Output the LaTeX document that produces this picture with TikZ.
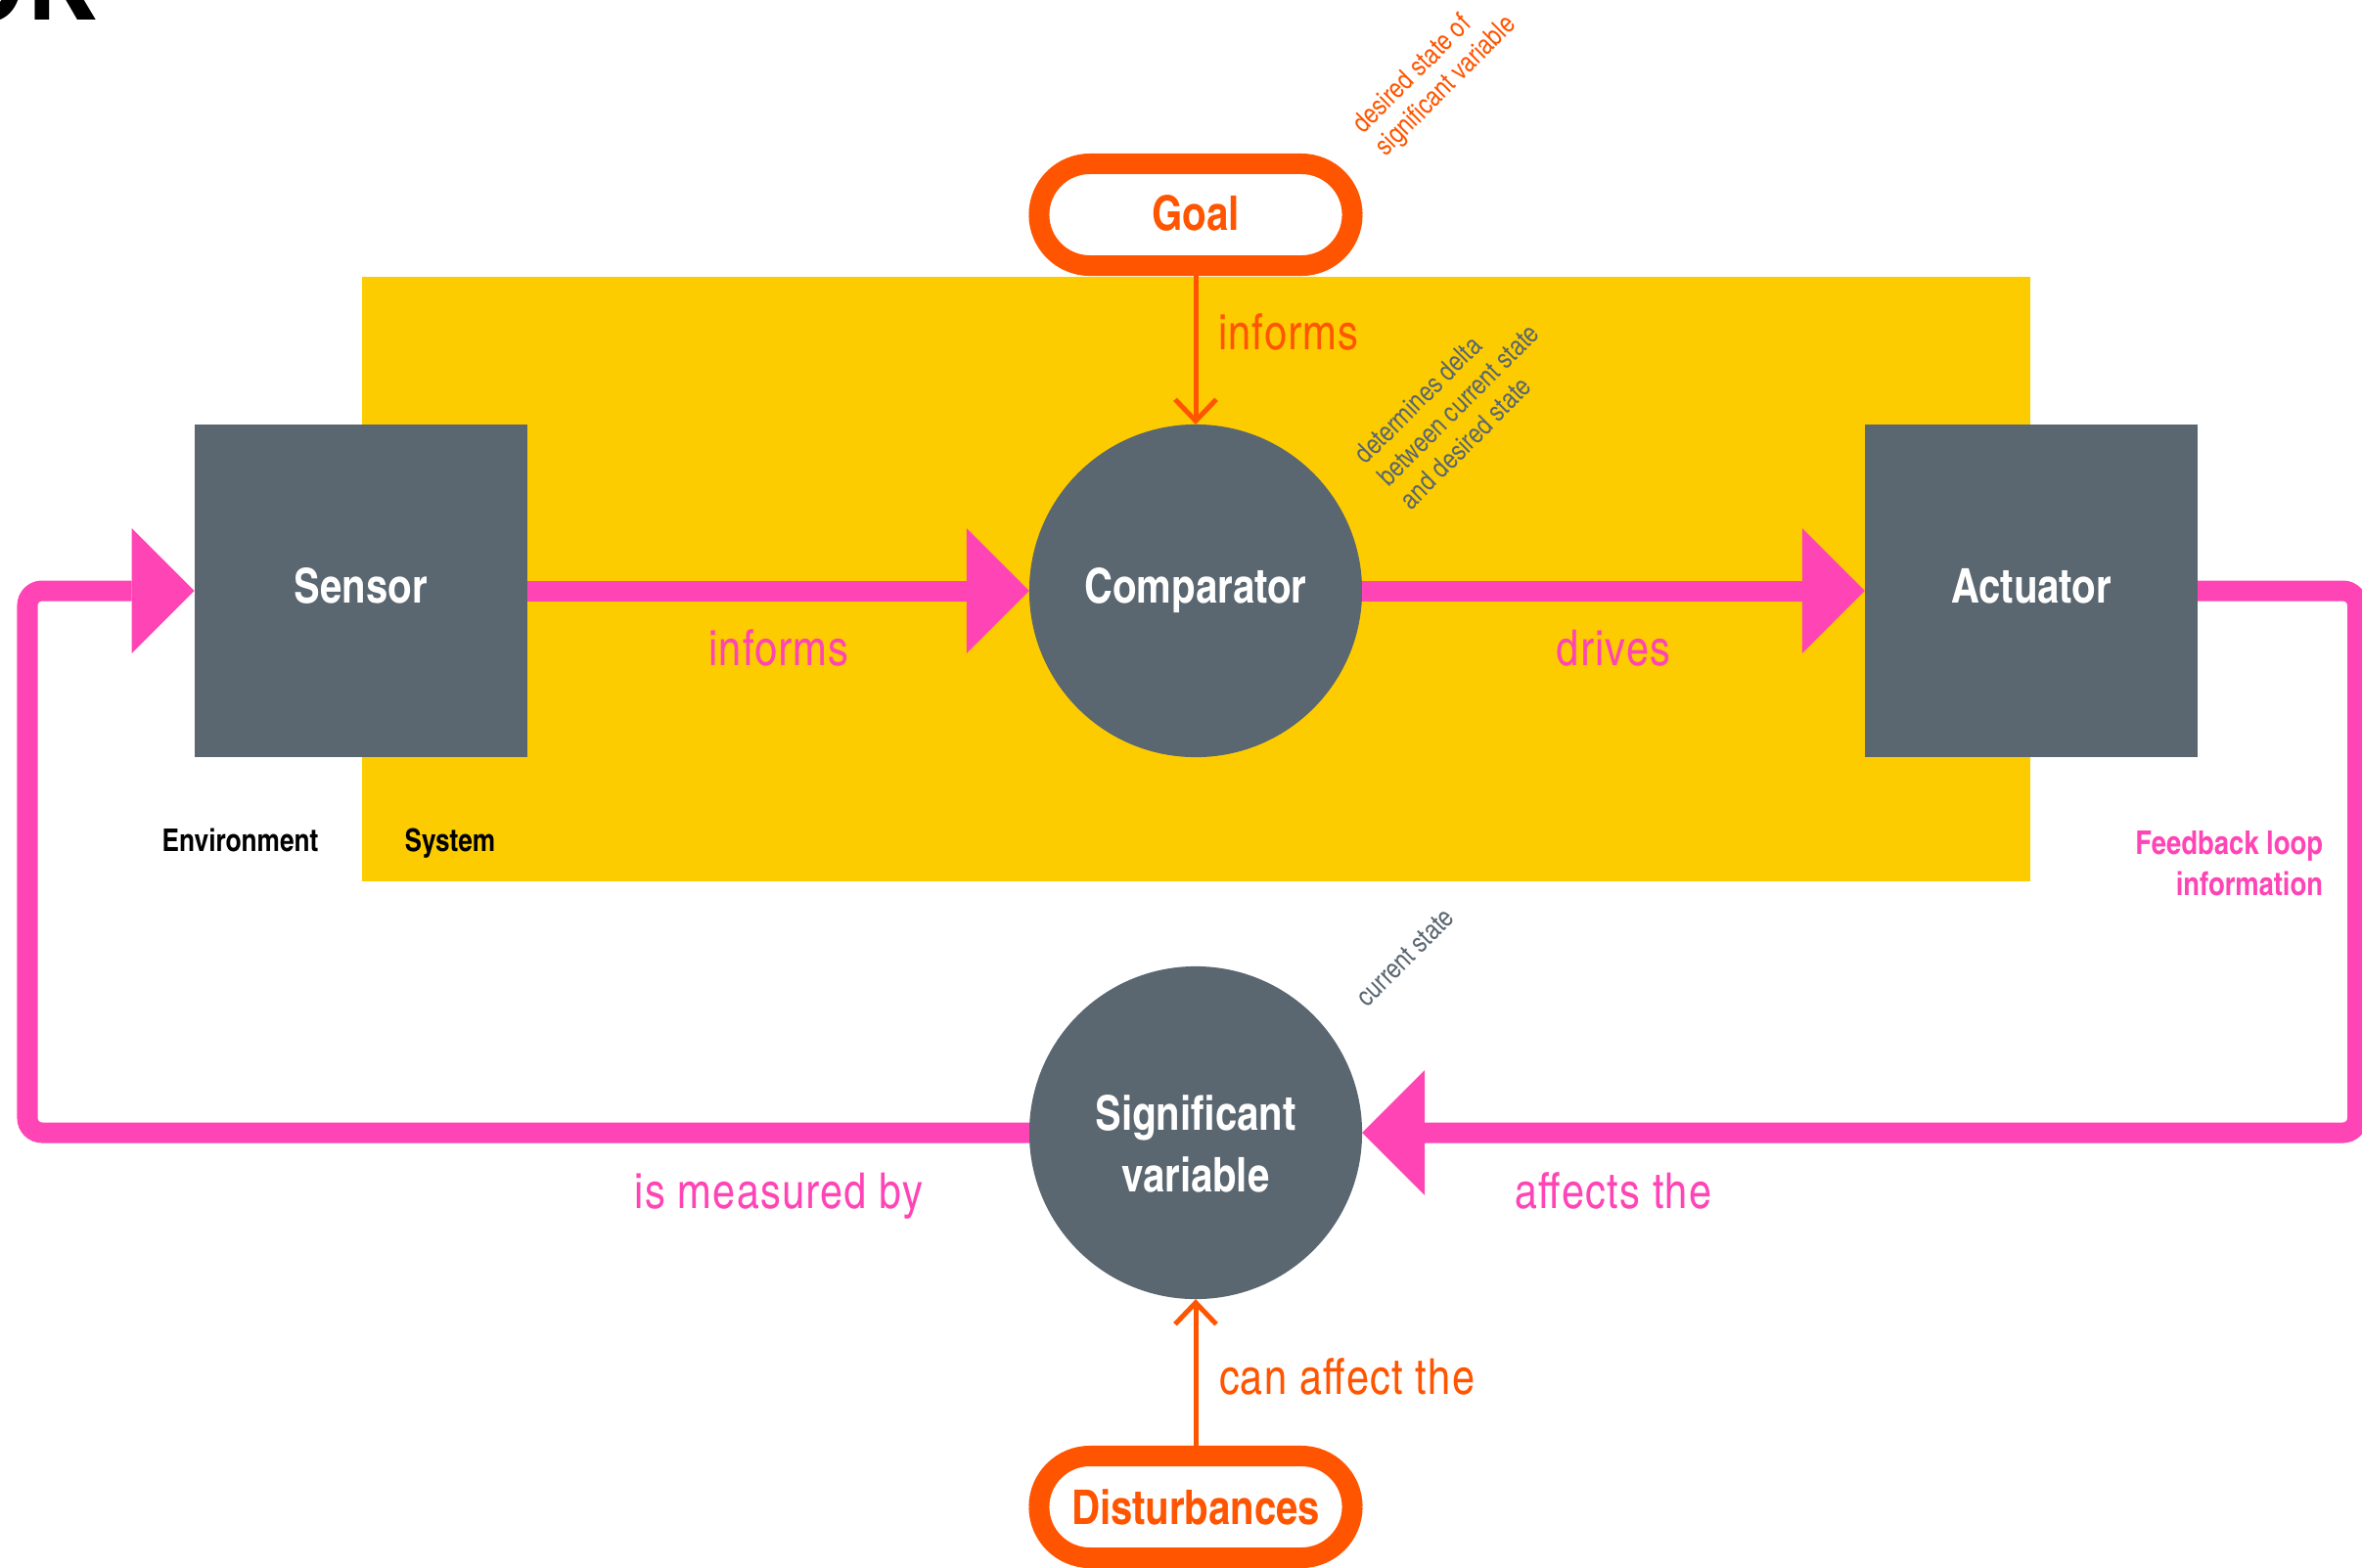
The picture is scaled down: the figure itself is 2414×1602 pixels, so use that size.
\documentclass[tikz,border=0pt]{standalone}
\usepackage{fontspec}
\setmainfont{texgyreheroscn}[Extension=.otf,UprightFont=*-regular,BoldFont=*-bold,ItalicFont=*-italic,BoldItalicFont=*-bolditalic]
\usetikzlibrary{arrows.meta}
\definecolor{ylw}{HTML}{FDCC00}
\definecolor{gry}{HTML}{5A6670}
\definecolor{pnk}{HTML}{FF45B5}
\definecolor{org}{HTML}{FF5500}
\begin{document}
\begin{tikzpicture}[x=0.01cm,y=-0.01cm,
  every node/.style={outer sep=0pt,inner sep=0pt},
  bigfont/.style={font=\fontsize{13.9}{18}\selectfont\bfseries},
  block/.style={bigfont,fill=gry,minimum width=3.4cm,minimum height=3.4cm,text=white,text depth=0pt},
  disc/.style={bigfont,circle,fill=gry,minimum size=3.4cm,text=white,align=center,text depth=0pt},
  pill/.style={bigfont,draw=org,line width=0.21cm,rounded corners=0.52cm,fill=white,minimum width=3.2cm,minimum height=1.04cm,text=org,text depth=0pt},
  pinkarrow/.style={draw=pnk,line width=0.21cm,-{Triangle[length=0.64cm,width=1.28cm,line width=0pt]}},
  orgarrow/.style={draw=org,line width=0.05cm,-{Straight Barb[length=0.22cm,width=0.42cm]}},
  lbl/.style={font=\fontsize{14.4}{17}\selectfont\addfontfeature{LetterSpace=2.5}},
  smallbold/.style={font=\fontsize{9.1}{12}\selectfont\bfseries,text=black},
  fbtext/.style={font=\fontsize{9.5}{12}\selectfont\bfseries,text=pnk},
  rot/.style={font=\fontsize{8}{9.3}\selectfont,align=left,rotate=45}
]
\path[use as bounding box] (0,0) rectangle (2414,1602);
\clip (0,0) rectangle (2414,1602);

% title fragment
\node[font=\fontsize{34}{40}\selectfont\bfseries,anchor=base east] (ttl) at (98,20) {OK};

% system area
\fill[ylw] (369.5,283) rectangle (2075,901);

% main nodes
\node[block] (sensor) at (368.7,604) {\raisebox{3pt}{Sensor}};
\node[block] (act) at (2076,604) {\raisebox{3pt}{Actuator}};
\node[disc] (comp) at (1222,604) {\raisebox{3pt}{Comparator}};
\node[disc] (sig) at (1222,1158) {\raisebox{5.3pt}{\begin{tabular}{@{}c@{}}Significant\\variable\end{tabular}}};
\node[pill] (goal) at (1222,219.5) {\raisebox{1.3pt}{Goal}};
\node[pill] (dist) at (1222,1540.5) {Disturbances};

% connectors
\coordinate (rc) at (2409.5,1158);
\coordinate (lc) at (28,604);
\draw[pinkarrow] (sensor.east) -- (comp.west);
\draw[pinkarrow] (comp.east) -- (act.west);
\draw[pinkarrow,rounded corners=0.15cm] (act.east) -| (rc) -- (sig.east);
\draw[pinkarrow,rounded corners=0.15cm] (sig.west) -| (lc) -- (sensor.west);
\draw[orgarrow] (goal.south) -- (comp.north);
\draw[orgarrow] (dist.north) -- (sig.south);

% labels
\node[lbl,text=pnk,anchor=base] (l1) at (796,680) {informs};
\node[lbl,text=pnk,anchor=base] (l2) at (1649,680) {drives};
\node[lbl,text=pnk,anchor=base] (l3) at (796,1235) {is measured by};
\node[lbl,text=pnk,anchor=base] (l4) at (1649,1235) {affects the};
\node[lbl,text=org,anchor=base west] (l5) at (1245,357) {informs};
\node[lbl,text=org,anchor=base west] (l6) at (1246,1425) {can affect the};
\node[smallbold,anchor=base] (env) at (245.5,870) {Environment};
\node[smallbold,anchor=base] (sys) at (460,870) {System};
\node[fbtext,anchor=base east] (fb1) at (2374,873) {Feedback loop};
\node[fbtext,anchor=base east] (fb2) at (2374,915) {information};
\node[rot,text=org] (d1) at (1467,77) {desired state of\\significant variable};
\node[rot,text=gry] (d2) at (1490,414) {determines delta\\between current state\\and desired state};
\node[rot,text=gry] (d3) at (1436,979) {current state};
\end{tikzpicture}
\end{document}
